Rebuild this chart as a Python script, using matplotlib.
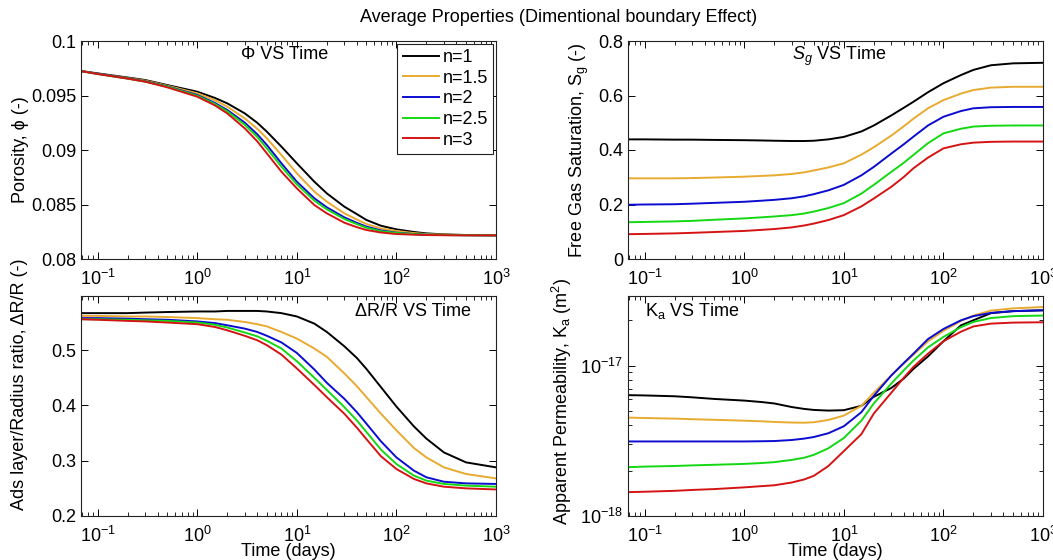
import matplotlib
matplotlib.use('Agg')
import matplotlib.pyplot as plt

plt.rcParams['font.family'] = ['Liberation Sans', 'DejaVu Sans']
plt.rcParams['mathtext.fontset'] = 'custom'
plt.rcParams['mathtext.rm'] = 'Liberation Sans'
plt.rcParams['mathtext.it'] = 'Liberation Sans:italic'
plt.rcParams['mathtext.bf'] = 'Liberation Sans:bold'

# time axis (days), shared by every curve
time_days = [0.067, 0.1, 0.2, 0.3, 0.5, 1, 1.5, 2, 3, 4, 5, 7, 10, 15, 20, 30, 40, 50, 70,
             100, 150, 200, 300, 500, 1000]

n_labels = ['n=1', 'n=1.5', 'n=2', 'n=2.5', 'n=3']
colors = ['#000000', '#E8AA30', '#0C0CD0', '#14D814', '#D41414']

# porosity (-), one list per n
porosity = [
    [0.09725, 0.09703, 0.09665, 0.09642, 0.09596, 0.09535, 0.09478, 0.09428, 0.09336, 0.09250, 0.09168, 0.09031,
     0.08878, 0.08709, 0.08602, 0.08480, 0.08412, 0.08358, 0.08305, 0.08272, 0.08248, 0.08235, 0.08226, 0.08220, 0.08217],
    [0.09725, 0.09700, 0.09660, 0.09636, 0.09590, 0.09520, 0.09457, 0.09398, 0.09290, 0.09195, 0.09107, 0.08954,
     0.08786, 0.08618, 0.08526, 0.08419, 0.08362, 0.08321, 0.08280, 0.08257, 0.08238, 0.08229, 0.08223, 0.08219, 0.08217],
    [0.09725, 0.09700, 0.09657, 0.09630, 0.09584, 0.09505, 0.09432, 0.09367, 0.09251, 0.09145, 0.09046, 0.08878,
     0.08709, 0.08557, 0.08474, 0.08382, 0.08332, 0.08297, 0.08262, 0.08242, 0.08229, 0.08223, 0.08220, 0.08218, 0.08217],
    [0.09725, 0.09697, 0.09655, 0.09627, 0.09581, 0.09498, 0.09423, 0.09355, 0.09232, 0.09120, 0.09015, 0.08847,
     0.08685, 0.08535, 0.08456, 0.08367, 0.08320, 0.08287, 0.08255, 0.08239, 0.08228, 0.08223, 0.08220, 0.08218, 0.08217],
    [0.09725, 0.09697, 0.09655, 0.09627, 0.09575, 0.09489, 0.09410, 0.09336, 0.09199, 0.09080, 0.08969, 0.08801,
     0.08648, 0.08495, 0.08419, 0.08333, 0.08292, 0.08266, 0.08243, 0.08229, 0.08223, 0.08220, 0.08218, 0.08217, 0.08217],
]

# free gas saturation (-)
gas_sat = [
    [0.439, 0.439, 0.438, 0.438, 0.437, 0.436, 0.435, 0.434, 0.433, 0.433, 0.434, 0.439, 0.448,
     0.468, 0.490, 0.527, 0.555, 0.577, 0.612, 0.645, 0.675, 0.694, 0.711, 0.718, 0.720],
    [0.296, 0.296, 0.296, 0.297, 0.299, 0.302, 0.305, 0.307, 0.312, 0.318, 0.325, 0.336, 0.351,
     0.383, 0.410, 0.453, 0.487, 0.515, 0.553, 0.583, 0.607, 0.620, 0.629, 0.632, 0.632],
    [0.199, 0.200, 0.201, 0.203, 0.206, 0.210, 0.214, 0.217, 0.223, 0.230, 0.238, 0.252, 0.272,
     0.307, 0.338, 0.387, 0.421, 0.449, 0.490, 0.522, 0.543, 0.553, 0.557, 0.558, 0.558],
    [0.135, 0.136, 0.138, 0.140, 0.144, 0.149, 0.153, 0.156, 0.161, 0.167, 0.174, 0.187, 0.205,
     0.240, 0.272, 0.320, 0.353, 0.382, 0.425, 0.461, 0.478, 0.486, 0.489, 0.490, 0.490],
    [0.091, 0.092, 0.094, 0.096, 0.099, 0.103, 0.107, 0.110, 0.116, 0.123, 0.130, 0.143, 0.161,
     0.193, 0.222, 0.265, 0.301, 0.333, 0.372, 0.406, 0.421, 0.427, 0.430, 0.431, 0.431],
]

# adsorbed layer / radius ratio (-)
ads_ratio = [
    [0.567, 0.567, 0.567, 0.568, 0.569, 0.570, 0.570, 0.571, 0.571, 0.571, 0.570, 0.567, 0.561,
     0.548, 0.533, 0.507, 0.486, 0.466, 0.433, 0.398, 0.362, 0.340, 0.315, 0.297, 0.288],
    [0.562, 0.562, 0.561, 0.561, 0.560, 0.558, 0.556, 0.555, 0.551, 0.547, 0.543, 0.533, 0.521,
     0.503, 0.488, 0.458, 0.435, 0.415, 0.385, 0.355, 0.323, 0.306, 0.288, 0.276, 0.268],
    [0.558, 0.558, 0.557, 0.556, 0.555, 0.552, 0.549, 0.545, 0.539, 0.533, 0.526, 0.514, 0.495,
     0.465, 0.441, 0.412, 0.388, 0.367, 0.335, 0.306, 0.282, 0.270, 0.262, 0.259, 0.258],
    [0.556, 0.556, 0.555, 0.554, 0.553, 0.550, 0.546, 0.541, 0.532, 0.525, 0.517, 0.503, 0.480,
     0.450, 0.428, 0.397, 0.373, 0.352, 0.320, 0.294, 0.273, 0.264, 0.258, 0.255, 0.253],
    [0.556, 0.555, 0.553, 0.552, 0.550, 0.547, 0.542, 0.536, 0.526, 0.518, 0.509, 0.492, 0.467,
     0.437, 0.415, 0.385, 0.360, 0.339, 0.308, 0.285, 0.267, 0.259, 0.253, 0.250, 0.248],
]

# apparent permeability (m^2)
perm = [
    [6.36e-18, 6.33e-18, 6.25e-18, 6.15e-18, 6.00e-18, 5.85e-18, 5.72e-18, 5.60e-18, 5.30e-18, 5.15e-18, 5.07e-18,
     5.02e-18, 5.05e-18, 5.40e-18, 6.20e-18, 7.10e-18, 8.20e-18, 9.50e-18, 1.15e-17, 1.45e-17, 1.85e-17,
     2.00e-17, 2.23e-17, 2.30e-17, 2.33e-17],
    [4.51e-18, 4.48e-18, 4.44e-18, 4.40e-18, 4.36e-18, 4.30e-18, 4.26e-18, 4.22e-18, 4.18e-18, 4.17e-18, 4.20e-18,
     4.35e-18, 4.65e-18, 5.40e-18, 6.60e-18, 8.60e-18, 1.03e-17, 1.18e-17, 1.45e-17, 1.70e-17, 1.98e-17,
     2.15e-17, 2.32e-17, 2.40e-17, 2.45e-17],
    [3.13e-18, 3.13e-18, 3.13e-18, 3.13e-18, 3.13e-18, 3.13e-18, 3.14e-18, 3.15e-18, 3.20e-18, 3.27e-18, 3.35e-18,
     3.55e-18, 3.95e-18, 4.90e-18, 6.30e-18, 8.60e-18, 1.04e-17, 1.20e-17, 1.50e-17, 1.75e-17, 2.00e-17,
     2.13e-17, 2.24e-17, 2.30e-17, 2.33e-17],
    [2.11e-18, 2.13e-18, 2.15e-18, 2.17e-18, 2.19e-18, 2.22e-18, 2.25e-18, 2.28e-18, 2.36e-18, 2.44e-18, 2.55e-18,
     2.82e-18, 3.30e-18, 4.30e-18, 5.60e-18, 7.60e-18, 9.30e-18, 1.08e-17, 1.32e-17, 1.55e-17, 1.80e-17,
     1.95e-17, 2.07e-17, 2.13e-17, 2.15e-17],
    [1.44e-18, 1.45e-18, 1.47e-18, 1.49e-18, 1.51e-18, 1.55e-18, 1.58e-18, 1.60e-18, 1.67e-18, 1.75e-18, 1.85e-18,
     2.15e-18, 2.70e-18, 3.50e-18, 4.80e-18, 6.60e-18, 8.30e-18, 9.80e-18, 1.20e-17, 1.45e-17, 1.68e-17,
     1.82e-17, 1.90e-17, 1.93e-17, 1.94e-17],
]

W, H = 1053.0, 560.0
FS = 13
fig = plt.figure(figsize=(W / 100, H / 100), dpi=100)

def box(x0, y0, x1, y1):
    return [x0 / W, 1 - y1 / H, (x1 - x0) / W, (y1 - y0) / H]

ax_phi = fig.add_axes(box(81, 41, 496, 259))
ax_sg = fig.add_axes(box(628, 41, 1043, 259))
ax_dr = fig.add_axes(box(81, 296, 496, 516))
ax_k = fig.add_axes(box(628, 296, 1043, 516))

for ax, data in [(ax_phi, porosity), (ax_sg, gas_sat), (ax_dr, ads_ratio), (ax_k, perm)]:
    for vals, c, lab in zip(data, colors, n_labels):
        ax.plot(time_days, vals, color=c, lw=1.4, label=lab)
    ax.set_xscale('log')
    ax.set_xlim(0.068, 1000)
    ax.tick_params(which='both', direction='in', top=True, right=True, labelsize=FS)
    ax.tick_params(which='major', length=5, width=0.7)
    ax.tick_params(which='minor', length=3, width=0.6)
    ax.tick_params(axis='x', which='major', pad=7)
    for s in ax.spines.values():
        s.set_linewidth(0.8)
        s.set_color('#222222')

# porosity panel
ax_phi.set_ylim(0.08, 0.1)
ax_phi.set_yticks([0.08, 0.085, 0.09, 0.095, 0.1])
ax_phi.set_yticklabels(['0.08', '0.085', '0.09', '0.095', '0.1'])
ax_phi.set_ylabel('Porosity, ϕ (-)', fontsize=FS)
ax_phi.yaxis.set_label_coords(-0.125, 0.5)
ax_phi.text(0.49, 0.94, 'Φ VS Time', transform=ax_phi.transAxes, ha='center', va='center', fontsize=FS)
leg = ax_phi.legend(loc='upper right', fontsize=FS, fancybox=False, edgecolor='#222222', framealpha=1,
                    borderaxespad=0.15, handlelength=2.0, handletextpad=0.2, labelspacing=0.2, borderpad=0.3)
leg.get_frame().set_linewidth(0.8)

# saturation panel
ax_sg.set_ylim(0, 0.8)
ax_sg.set_yticks([0, 0.2, 0.4, 0.6, 0.8])
ax_sg.set_yticklabels(['0', '0.2', '0.4', '0.6', '0.8'])
ax_sg.set_ylabel('Free Gas Saturation, S$_{\\rm g}$ (-)', fontsize=FS)
ax_sg.yaxis.set_label_coords(-0.09, 0.5)
ax_sg.text(0.51, 0.93, '$S_g$ VS Time', transform=ax_sg.transAxes, ha='center', va='center', fontsize=FS)

# dR/R panel
ax_dr.set_ylim(0.2, 0.598)
ax_dr.set_yticks([0.2, 0.3, 0.4, 0.5])
ax_dr.set_yticklabels(['0.2', '0.3', '0.4', '0.5'])
ax_dr.set_ylabel('Ads layer/Radius ratio, ΔR/R (-)', fontsize=FS)
ax_dr.yaxis.set_label_coords(-0.128, 0.6)
ax_dr.set_xlabel('Time (days)', fontsize=FS, labelpad=-2)
ax_dr.text(0.80, 0.93, 'ΔR/R VS Time', transform=ax_dr.transAxes, ha='center', va='center', fontsize=FS)

# permeability panel
ax_k.set_yscale('log')
ax_k.set_ylim(1e-18, 2.9e-17)
ax_k.set_ylabel('Apparent Permeability, K$_{\\rm a}$ (m$^{\\rm 2}$)', fontsize=FS)
ax_k.yaxis.set_label_coords(-0.13, 0.52)
ax_k.set_xlabel('Time (days)', fontsize=FS, labelpad=-2)
ax_k.text(0.04, 0.93, 'K$_{\\rm a}$ VS Time', transform=ax_k.transAxes, ha='left', va='center', fontsize=FS)

fig.text(0.53, 1 - 18 / H, 'Average Properties (Dimentional boundary Effect)', ha='center', va='center', fontsize=FS)

fig.savefig('out.png', dpi=100)
